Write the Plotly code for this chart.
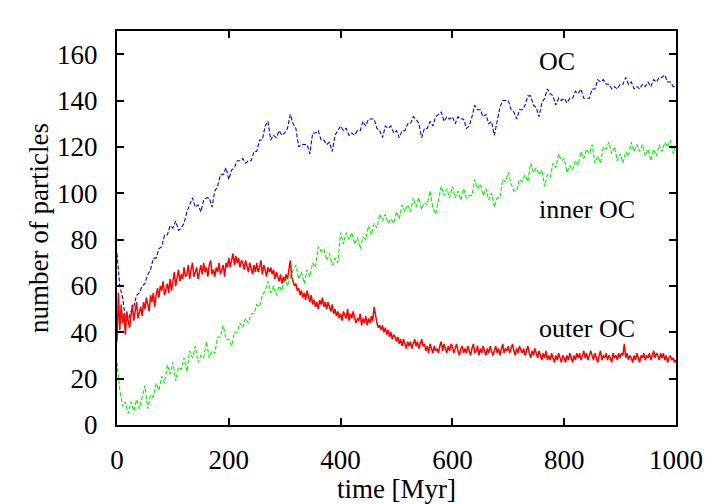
import plotly.graph_objects as go

# time grids (Myr)
t_outer = [i * 2.5 for i in range(401)]
t_inner = [i * 5 for i in range(201)]
t_oc = [i * 5 for i in range(201)]

# outer OC (red), every 2.5 Myr (10 values = 25 Myr per row)
outer_oc = [
    36, 57, 41, 52, 44, 48, 39, 49, 45, 42,
    47, 52, 45, 50, 53, 46, 49, 51, 47, 53,
    50, 55, 52, 49, 56, 53, 57, 51, 56, 59,
    55, 60, 58, 62, 56, 59, 61, 57, 63, 58,
    62, 66, 60, 64, 67, 62, 65, 63, 68, 64,
    65, 69, 63, 67, 70, 64, 66, 68, 63, 67,
    69, 65, 70, 66, 68, 64, 69, 71, 65, 67,
    64, 68, 66, 70, 65, 67, 69, 64, 70, 68,
    72, 68, 71, 74, 69, 73, 70, 72, 68, 71,
    70, 67, 71, 68, 66, 70, 67, 65, 69, 66,
    70, 66, 68, 71, 65, 69, 67, 64, 68, 66,
    68, 65, 67, 63, 66, 64, 62, 65, 61, 64,
    62, 65, 63, 67, 71, 64, 62, 60, 61, 58,
    59, 56, 58, 55, 57, 54, 58, 55, 53, 56,
    52, 54, 51, 53, 50, 54, 52, 55, 51, 53,
    50, 53, 51, 49, 52, 48, 50, 47, 49, 46,
    48, 45, 49, 47, 46, 50, 45, 48, 46, 49,
    47, 44, 46, 45, 48, 43, 46, 44, 47, 43,
    46, 44, 47, 45, 51, 47, 44, 42, 43, 41,
    43, 40, 42, 39, 41, 38, 40, 37, 39, 38,
    36, 38, 35, 37, 34, 37, 35, 33, 36, 34,
    36, 33, 35, 37, 34, 36, 33, 35, 37, 34,
    35, 32, 34, 31, 35, 33, 31, 34, 32, 33,
    31, 34, 36, 32, 35, 33, 31, 34, 32, 35,
    34, 31, 33, 35, 32, 30, 33, 34, 31, 33,
    31, 34, 32, 30, 33, 35, 31, 32, 34, 30,
    33, 31, 34, 32, 30, 33, 31, 34, 32, 30,
    32, 34, 31, 33, 30, 32, 35, 31, 33, 32,
    34, 31, 33, 35, 32, 30, 33, 31, 34, 32,
    31, 33, 30, 32, 34, 31, 29, 32, 30, 33,
    31, 29, 32, 30, 28, 31, 29, 32, 28, 30,
    28, 31, 29, 27, 30, 28, 31, 29, 27, 30,
    29, 27, 30, 28, 31, 29, 27, 30, 28, 31,
    29, 31, 28, 30, 32, 29, 31, 28, 30, 32,
    30, 28, 31, 29, 27, 30, 32, 28, 30, 29,
    31, 28, 30, 29, 27, 31, 29, 30, 28, 31,
    29, 31, 30, 35, 29, 31, 28, 30, 29, 27,
    30, 28, 31, 29, 27, 30, 29, 31, 28, 30,
    29, 31, 28, 30, 32, 29, 31, 30, 28, 31,
    29, 31, 28, 30, 27, 29, 30, 28, 29, 27,
    28,
]

# inner OC (green), every 5 Myr
inner_oc = [
    27, 15, 8, 10, 5, 10, 6, 11, 7, 12,
    17, 7, 13, 12, 18, 15, 21, 18, 26, 22,
    27, 19, 25, 24, 29, 23, 32, 29, 34, 27,
    30, 29, 36, 29, 32, 31, 38, 38, 43, 37,
    37, 34, 40, 40, 44, 42, 46, 44, 48, 48,
    52, 51, 56, 58, 62, 57, 60, 56, 60, 58,
    64, 60, 64, 67, 69, 63, 66, 61, 67, 64,
    70, 68, 77, 75, 76, 71, 74, 69, 72, 70,
    83, 78, 83, 80, 83, 78, 81, 76, 81, 80,
    86, 82, 87, 85, 91, 88, 91, 87, 89, 87,
    92, 89, 95, 92, 95, 92, 98, 94, 98, 93,
    96, 95, 101, 94, 91, 97, 103, 99, 102, 98,
    103, 98, 101, 97, 102, 98, 99, 99, 106, 102,
    104, 99, 102, 97, 100, 94, 98, 98, 106, 105,
    109, 104, 101, 101, 106, 105, 108, 105, 113, 109,
    111, 108, 110, 103, 108, 107, 113, 111, 117, 114,
    115, 109, 112, 110, 114, 112, 118, 115, 119, 117,
    121, 113, 116, 113, 120, 119, 122, 117, 120, 114,
    117, 113, 118, 116, 122, 118, 121, 118, 121, 116,
    119, 114, 119, 116, 121, 118, 122, 120, 123, 117,
    121,
]

# OC total (blue), every 5 Myr
oc = [
    74, 60, 55, 46, 45, 49, 51, 56, 57, 60,
    61, 65, 67, 72, 72, 76, 77, 82, 82, 86,
    85, 88, 84, 85, 87, 92, 95, 98, 94, 95,
    92, 97, 98, 98, 94, 101, 103, 108, 108, 111,
    106, 110, 111, 114, 114, 115, 113, 114, 114, 118,
    118, 123, 123, 129, 131, 123, 125, 124, 127, 125,
    126, 128, 134, 130, 128, 120, 121, 121, 121, 117,
    126, 126, 127, 123, 123, 121, 122, 118, 125, 127,
    129, 127, 128, 125, 126, 125, 127, 127, 131, 129,
    132, 132, 132, 128, 127, 124, 129, 128, 129, 126,
    127, 124, 127, 127, 130, 130, 133, 132, 130, 124,
    128, 128, 131, 129, 133, 134, 135, 131, 133, 132,
    133, 130, 133, 132, 132, 128, 129, 133, 138, 136,
    136, 133, 134, 130, 131, 125, 131, 137, 140, 140,
    140, 136, 135, 132, 136, 136, 138, 142, 142, 138,
    137, 133, 139, 141, 145, 143, 142, 138, 141, 140,
    141, 139, 141, 141, 144, 143, 145, 141, 141, 141,
    145, 145, 149, 148, 149, 147, 147, 145, 146, 145,
    147, 147, 150, 147, 148, 145, 146, 145, 147, 146,
    148, 146, 149, 148, 150, 150, 151, 148, 148, 146,
    146,
]

x_ticks = [0, 200, 400, 600, 800, 1000]
y_ticks = [0, 20, 40, 60, 80, 100, 120, 140, 160]

labels = ["OC", "inner OC", "outer OC"]
label_x = [751, 751, 751]
label_y = [157, 93, 41.5]

FONT = "Liberation Serif"

fig = go.Figure()
fig.add_trace(go.Scatter(x=t_oc, y=oc, mode="lines", name="OC",
                         line=dict(color="#0000e0", width=1.1, dash="4px,2px")))
fig.add_trace(go.Scatter(x=t_inner, y=inner_oc, mode="lines", name="inner OC",
                         line=dict(color="#00ee00", width=1.1, dash="4px,2px")))
fig.add_trace(go.Scatter(x=t_outer, y=outer_oc, mode="lines", name="outer OC",
                         line=dict(color="#ff0000", width=1.5)))

for txt, lx, ly in zip(labels, label_x, label_y):
    fig.add_annotation(x=lx, y=ly, text=txt, showarrow=False, xanchor="left",
                       yanchor="middle", font=dict(family=FONT, size=26, color="black"))

axis_common = dict(ticks="inside", ticklen=7, tickwidth=1.5, tickcolor="black",
                   showline=True, linecolor="black", linewidth=2, mirror="allticks",
                   showgrid=False, zeroline=False, automargin=False,
                   tickfont=dict(family=FONT, size=27, color="black"))

fig.update_xaxes(range=[0, 1000], tickvals=x_ticks, ticklabelstandoff=10,
                 title=dict(text="time [Myr]", standoff=9,
                            font=dict(family=FONT, size=27, color="black")),
                 **axis_common)
fig.update_yaxes(range=[0, 170], tickvals=y_ticks, ticklabelstandoff=12,
                 title=dict(text="number of particles", standoff=1,
                            font=dict(family=FONT, size=27, color="black")),
                 **axis_common)

fig.update_layout(width=720, height=504, margin=dict(l=117, r=44, t=31, b=79),
                  paper_bgcolor="white", plot_bgcolor="white", showlegend=False,
                  font=dict(family=FONT, size=27, color="black"))

fig.write_html("out.html")
